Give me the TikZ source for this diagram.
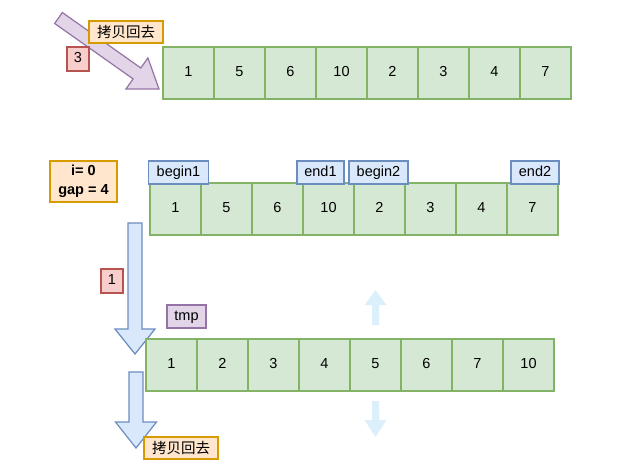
\documentclass[tikz,border=0pt]{standalone}
\usepackage{fontspec}
\setmainfont{Liberation Sans}
\newfontfamily\cjk{Noto Sans CJK SC}
\usetikzlibrary{calc}
\definecolor{gfill}{HTML}{D5E8D4}
\definecolor{gline}{HTML}{82B366}
\definecolor{bfill}{HTML}{DAE8FC}
\definecolor{bline}{HTML}{6C8EBF}
\definecolor{rfill}{HTML}{F8CECC}
\definecolor{rline}{HTML}{B85450}
\definecolor{ofill}{HTML}{FFE6CC}
\definecolor{oline}{HTML}{D79B00}
\definecolor{pfill}{HTML}{E1D5E7}
\definecolor{pline}{HTML}{9673A6}
\definecolor{lfill}{HTML}{DCF0FC}
\newcommand\fatarrow[6]{%
  \coordinate (fa-t) at #2; \coordinate (fa-p) at #3;
  \coordinate (fa-b) at ($(fa-p)!#6!(fa-t)$);
  \path[#1] ($(fa-t)!#4!90:(fa-p)$) -- ($(fa-b)!#4!-90:(fa-t)$) -- ($(fa-b)!#5!-90:(fa-t)$) -- (fa-p) -- ($(fa-b)!#5!90:(fa-t)$) -- ($(fa-b)!#4!90:(fa-t)$) -- ($(fa-t)!#4!-90:(fa-p)$) -- cycle;
}
\begin{document}
\begin{tikzpicture}[x=1pt,y=-1pt,
  every node/.style={font=\fontsize{14.5}{17}\selectfont, inner sep=0pt},
  txt/.style={text height=10.5pt, text depth=3pt},
  cell/.style={txt, draw=gline, fill=gfill, line width=1.2pt, minimum width=51pt, minimum height=52pt},
  lab/.style={txt, draw=bline, fill=bfill, line width=1.2pt, minimum height=23pt},
  redbox/.style={txt, draw=rline, fill=rfill, line width=1.2pt, minimum width=22pt, minimum height=24pt},
  orbox/.style={draw=oline, fill=ofill, line width=1.2pt},
  purbox/.style={txt, draw=pline, fill=pfill, line width=1.2pt},
  bluearrow/.style={draw=bline, fill=bfill, line width=1.2pt, line join=miter},
  purarrow/.style={draw=pline, fill=pfill, line width=1.2pt, line join=miter},
  ghostarrow/.style={fill=lfill}]
\useasboundingbox[fill=white] (0,0) rectangle (640,474);

% top diagonal arrow
\fatarrow{purarrow}{(58.5,18)}{(159,89)}{6.7pt}{19pt}{27pt}
\node[orbox, minimum width=74pt, minimum height=22pt] (copy1) at (126,32) {\cjk 拷贝回去};
\node[redbox] (r3) at (78,59) {3};

% top row
\foreach \v [count=\i from 0] in {1,5,6,10,2,3,4,7}
  \node[cell] (t\i) at ({188.5+51*\i},73) {\v};

% middle row
\node[orbox, minimum width=67pt, minimum height=41pt, align=center, font=\fontsize{14.5}{19}\selectfont\bfseries] (info) at (83.5,181.5) {i= 0\\gap = 4};
\foreach \v [count=\i from 0] in {1,5,6,10,2,3,4,7}
  \node[cell] (m\i) at ({175.5+51*\i},209) {\v};
\node[lab, minimum width=60pt] (b1) at (178.5,172.5) {begin1};
\node[lab, minimum width=47pt] (e1) at (320.5,172.5) {end1};
\node[lab, minimum width=59pt] (b2) at (378.5,172.5) {begin2};
\node[lab, minimum width=48pt] (e2) at (535,172.5) {end2};

% arrow 1
\fatarrow{bluearrow}{(135,223)}{(135,354)}{7pt}{20pt}{25pt}
\node[redbox] (r1) at (112,281) {1};
\node[purbox, minimum width=39pt, minimum height=23pt] (tmp) at (186.5,316.5) {tmp};

% bottom row
\foreach \v [count=\i from 0] in {1,2,3,4,5,6,7,10}
  \node[cell] (d\i) at ({171.5+51*\i},365) {\v};

% ghost arrows
\fatarrow{ghostarrow}{(375.5,325)}{(375.5,290)}{3.5pt}{11pt}{15pt}
\fatarrow{ghostarrow}{(375.5,401)}{(375.5,437)}{3.5pt}{11pt}{17pt}

% arrow 2
\fatarrow{bluearrow}{(136,372)}{(136,448)}{7pt}{20.5pt}{26pt}
\node[orbox, minimum width=74pt, minimum height=22pt] (copy2) at (181,448) {\cjk 拷贝回去};
\end{tikzpicture}
\end{document}
